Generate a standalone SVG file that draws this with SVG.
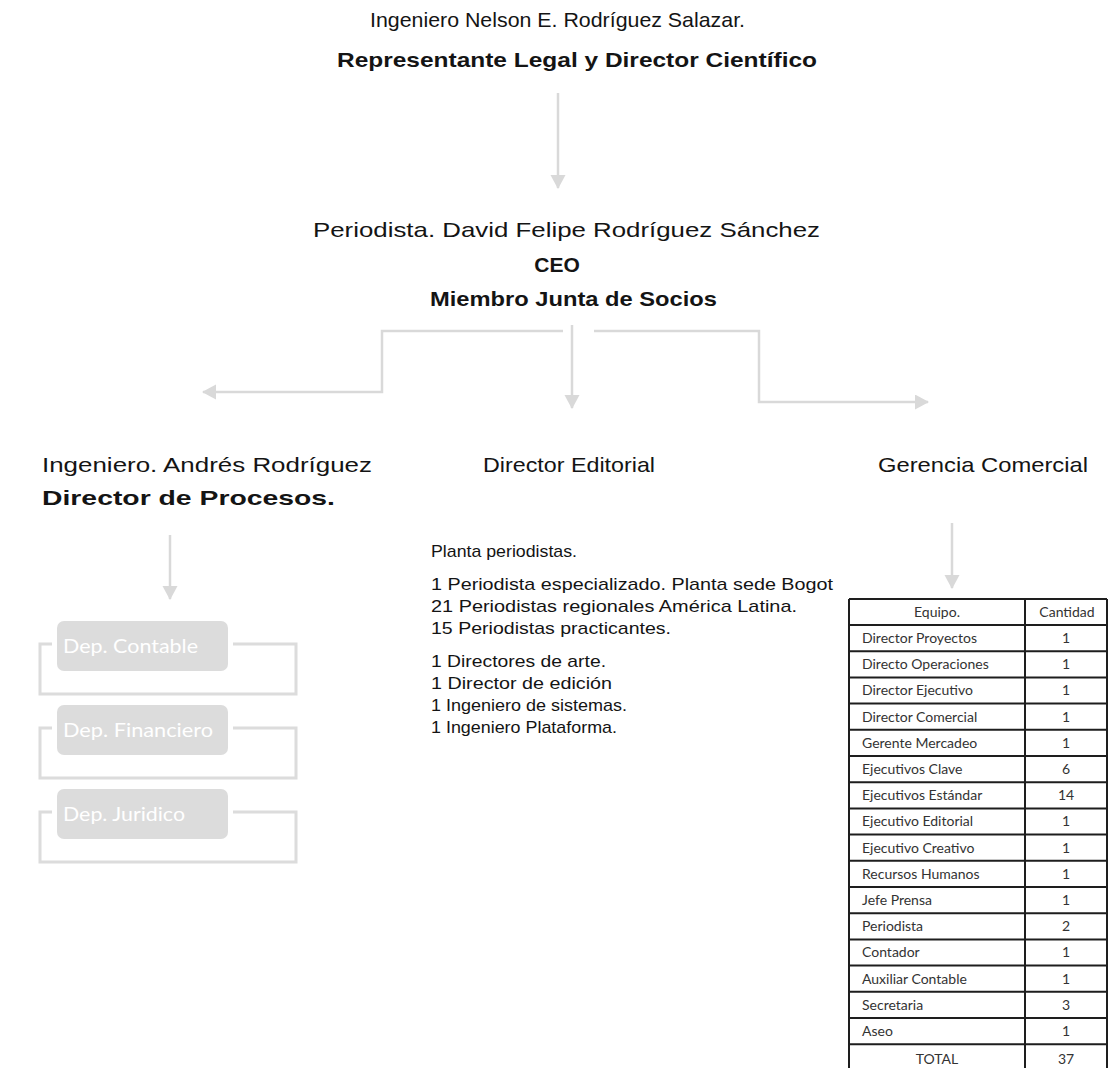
<svg xmlns="http://www.w3.org/2000/svg" width="1110" height="1068" viewBox="0 0 1110 1068">
<style>
.t{font-family:"Liberation Sans",Arial,sans-serif;fill:#141414}
.h{font-size:21px}
.b{font-weight:bold}
.e{font-size:17px}
.c{stroke:#d9d9d9;stroke-width:2.5;fill:none}
.dep rect.box{fill:#dcdcdc}
.dep text{font-family:Lato,"Open Sans",sans-serif;font-size:20px;fill:#ffffff}
.br{stroke:#dcdcdc;stroke-width:3;fill:none}
.tb{font-family:Lato,"Open Sans",sans-serif;font-size:14px;fill:#333}
.grid{stroke:#1e1e1e;stroke-width:2;fill:none}
</style>
<defs>
<marker id="ah" markerUnits="userSpaceOnUse" markerWidth="16" markerHeight="16" refX="13" refY="7.5" orient="auto">
<path d="M0,0 L14,7.5 L0,15 Z" fill="#d9d9d9"/>
</marker>
</defs>

<g id="node-director">
<text class="t h" x="370" y="27" textLength="375" lengthAdjust="spacingAndGlyphs">Ingeniero Nelson E. Rodríguez Salazar.</text>
<text class="t h b" x="337" y="67" textLength="480" lengthAdjust="spacingAndGlyphs">Representante Legal y Director Científico</text>
</g>

<g id="node-ceo">
<text class="t h" x="313" y="237" textLength="507" lengthAdjust="spacingAndGlyphs">Periodista. David Felipe Rodríguez Sánchez</text>
<text class="t h b" x="557" y="272" text-anchor="middle">CEO</text>
<text class="t h b" x="430" y="306" textLength="287" lengthAdjust="spacingAndGlyphs">Miembro Junta de Socios</text>
</g>

<g id="node-procesos">
<text class="t h" x="42" y="472" textLength="330" lengthAdjust="spacingAndGlyphs">Ingeniero. Andrés Rodríguez</text>
<text class="t h b" x="42" y="505" textLength="293" lengthAdjust="spacingAndGlyphs">Director de Procesos.</text>
</g>

<g id="node-editorial">
<text class="t h" x="483" y="472" textLength="172" lengthAdjust="spacingAndGlyphs">Director Editorial</text>
<text class="t e" x="431" y="557" textLength="146" lengthAdjust="spacingAndGlyphs">Planta periodistas.</text>
<text class="t e" x="431" y="590" textLength="402" lengthAdjust="spacingAndGlyphs">1 Periodista especializado. Planta sede Bogot</text>
<text class="t e" x="431" y="612" textLength="366" lengthAdjust="spacingAndGlyphs">21 Periodistas regionales América Latina.</text>
<text class="t e" x="431" y="634" textLength="240" lengthAdjust="spacingAndGlyphs">15 Periodistas practicantes.</text>
<text class="t e" x="431" y="667" textLength="175" lengthAdjust="spacingAndGlyphs">1 Directores de arte.</text>
<text class="t e" x="431" y="689" textLength="181" lengthAdjust="spacingAndGlyphs">1 Director de edición</text>
<text class="t e" x="431" y="711" textLength="196" lengthAdjust="spacingAndGlyphs">1 Ingeniero de sistemas.</text>
<text class="t e" x="431" y="733" textLength="186" lengthAdjust="spacingAndGlyphs">1 Ingeniero Plataforma.</text>
</g>

<g id="node-comercial">
<text class="t h" x="878" y="472" textLength="210" lengthAdjust="spacingAndGlyphs">Gerencia Comercial</text>
</g>

<g id="node-dep-contable" class="dep">
<path class="br" d="M52,644 H40 V694 H296 V644 H233"/>
<rect class="box" x="57" y="621" width="171" height="50" rx="7"/>
<text x="63" y="653" textLength="135" lengthAdjust="spacingAndGlyphs">Dep. Contable</text>
</g>
<g id="node-dep-financiero" class="dep">
<path class="br" d="M52,728 H40 V778 H296 V728 H233"/>
<rect class="box" x="57" y="705" width="171" height="50" rx="7"/>
<text x="63" y="737" textLength="150" lengthAdjust="spacingAndGlyphs">Dep. Financiero</text>
</g>
<g id="node-dep-juridico" class="dep">
<path class="br" d="M52,812 H40 V862 H296 V812 H233"/>
<rect class="box" x="57" y="789" width="171" height="50" rx="7"/>
<text x="63" y="821" textLength="122" lengthAdjust="spacingAndGlyphs">Dep. Juridico</text>
</g>

<g id="connectors">
<path class="c" d="M558,93 V188" marker-end="url(#ah)"/>
<path class="c" d="M563,331 H382 V392 H203" marker-end="url(#ah)"/>
<path class="c" d="M572,325 V408" marker-end="url(#ah)"/>
<path class="c" d="M594,331 H759 V402 H928" marker-end="url(#ah)"/>
<path class="c" d="M170,535 V599" marker-end="url(#ah)"/>
<path class="c" d="M952,523 V588" marker-end="url(#ah)"/>
</g>

<g id="node-table">
<rect x="849" y="599" width="258" height="480" fill="#fff"/>
<g class="grid">
<path d="M849,599 V1070 M1025,599 V1070 M1107,599 V1070 M849,599 H1107"/>
<path d="M849,625 H1107 M849,651.2 H1107 M849,677.4 H1107 M849,703.6 H1107 M849,729.8 H1107 M849,756 H1107 M849,782.2 H1107 M849,808.4 H1107 M849,834.6 H1107 M849,860.8 H1107 M849,887 H1107 M849,913.2 H1107 M849,939.4 H1107 M849,965.6 H1107 M849,991.8 H1107 M849,1018 H1107 M849,1044.2 H1107"/>
</g>
<g class="tb">
<text x="937" y="617" text-anchor="middle">Equipo.</text>
<text x="1067" y="617" text-anchor="middle">Cantidad</text>
<text x="862" y="643">Director Proyectos</text><text x="1066" y="643" text-anchor="middle">1</text>
<text x="862" y="669.2">Directo Operaciones</text><text x="1066" y="669.2" text-anchor="middle">1</text>
<text x="862" y="695.4">Director Ejecutivo</text><text x="1066" y="695.4" text-anchor="middle">1</text>
<text x="862" y="721.6">Director Comercial</text><text x="1066" y="721.6" text-anchor="middle">1</text>
<text x="862" y="747.8">Gerente Mercadeo</text><text x="1066" y="747.8" text-anchor="middle">1</text>
<text x="862" y="774">Ejecutivos Clave</text><text x="1066" y="774" text-anchor="middle">6</text>
<text x="862" y="800.2">Ejecutivos Estándar</text><text x="1066" y="800.2" text-anchor="middle">14</text>
<text x="862" y="826.4">Ejecutivo Editorial</text><text x="1066" y="826.4" text-anchor="middle">1</text>
<text x="862" y="852.6">Ejecutivo Creativo</text><text x="1066" y="852.6" text-anchor="middle">1</text>
<text x="862" y="878.8">Recursos Humanos</text><text x="1066" y="878.8" text-anchor="middle">1</text>
<text x="862" y="905">Jefe Prensa</text><text x="1066" y="905" text-anchor="middle">1</text>
<text x="862" y="931.2">Periodista</text><text x="1066" y="931.2" text-anchor="middle">2</text>
<text x="862" y="957.4">Contador</text><text x="1066" y="957.4" text-anchor="middle">1</text>
<text x="862" y="983.6">Auxiliar Contable</text><text x="1066" y="983.6" text-anchor="middle">1</text>
<text x="862" y="1009.8">Secretaria</text><text x="1066" y="1009.8" text-anchor="middle">3</text>
<text x="862" y="1036">Aseo</text><text x="1066" y="1036" text-anchor="middle">1</text>
<text x="937" y="1064" text-anchor="middle">TOTAL</text><text x="1066" y="1064" text-anchor="middle">37</text>
</g>
</g>
</svg>
